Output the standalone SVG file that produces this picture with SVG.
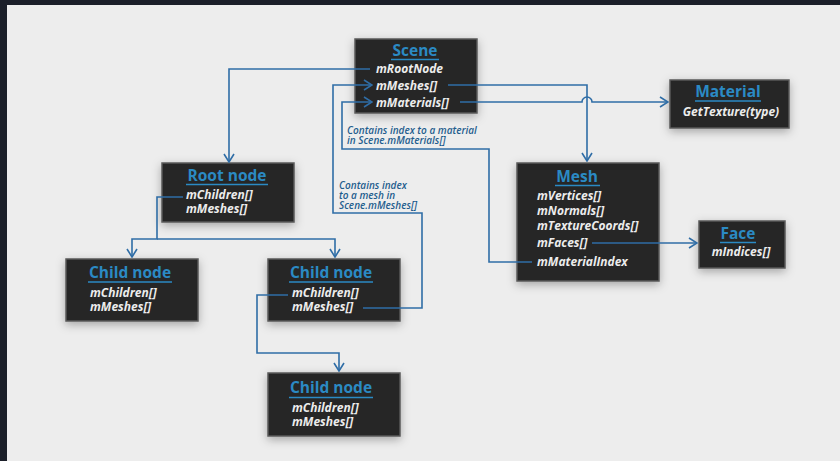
<svg xmlns="http://www.w3.org/2000/svg" width="840" height="461" viewBox="0 0 840 461">
<defs>
<style>
.box{fill:#262626;stroke:#5a5a5a;stroke-width:1.5;filter:url(#sh)}
.title{font-family:"Open Sans","Liberation Sans",sans-serif;font-weight:700;font-size:15.5px;fill:#2b8ac4;text-anchor:middle}
.ul{stroke:#2b8ac4;stroke-width:1.5}
.f{font-family:"Open Sans","Liberation Sans",sans-serif;font-weight:700;font-style:italic;font-size:12px;fill:#ececec}
.fm{text-anchor:middle}
.note{font-family:"Open Sans","Liberation Sans",sans-serif;font-weight:600;font-style:italic;font-size:10px;fill:#1f5d8e}
.c{fill:none;stroke:#2f6da6;stroke-width:1.6}
</style>
<filter id="sh" x="-30%" y="-30%" width="160%" height="170%">
<feDropShadow dx="0" dy="3" stdDeviation="5" flood-color="#000" flood-opacity="0.3"/>
</filter>
<marker id="ah" viewBox="0 0 10 12" refX="9" refY="6" markerWidth="10" markerHeight="12" markerUnits="userSpaceOnUse" orient="auto">
<path d="M1,1 L9,6 L1,11" fill="none" stroke="#2f6da6" stroke-width="1.6"/>
</marker>
</defs>
<rect x="0" y="0" width="840" height="461" fill="#1b1f29"/>
<rect x="7" y="5" width="833" height="456" fill="#ededed"/>

<g id="scene">
<rect class="box" x="355" y="39" width="122" height="74"/>
<text class="title" x="415" y="56">Scene</text>
<line class="ul" x1="391" y1="59.5" x2="439" y2="59.5"/>
<text class="f" x="376" y="73">mRootNode</text>
<text class="f" x="376" y="90">mMeshes[]</text>
<text class="f" x="376" y="107">mMaterials[]</text>
</g>

<g id="material">
<rect class="box" x="670" y="80" width="119" height="48"/>
<text class="title" x="728" y="97">Material</text>
<line class="ul" x1="695" y1="101" x2="761" y2="101"/>
<text class="f fm" x="731" y="116">GetTexture(type)</text>
</g>

<g id="rootnode">
<rect class="box" x="162" y="163" width="132" height="59"/>
<text class="title" x="227" y="181">Root node</text>
<line class="ul" x1="186" y1="184.5" x2="268" y2="184.5"/>
<text class="f" x="186" y="199">mChildren[]</text>
<text class="f" x="186" y="213">mMeshes[]</text>
</g>

<g id="mesh">
<rect class="box" x="517" y="163" width="142" height="118"/>
<text class="title" x="577" y="182">Mesh</text>
<line class="ul" x1="555" y1="185.5" x2="600" y2="185.5"/>
<text class="f" x="537" y="200">mVertices[]</text>
<text class="f" x="537" y="215">mNormals[]</text>
<text class="f" x="537" y="230">mTextureCoords[]</text>
<text class="f" x="537" y="247">mFaces[]</text>
<text class="f" x="537" y="266">mMaterialIndex</text>
</g>

<g id="face">
<rect class="box" x="699" y="221" width="86" height="47"/>
<text class="title" x="738" y="239">Face</text>
<line class="ul" x1="720" y1="242.5" x2="756" y2="242.5"/>
<text class="f fm" x="741" y="256">mIndices[]</text>
</g>

<g id="childnode1">
<rect class="box" x="66" y="259" width="132" height="62"/>
<text class="title" x="130" y="278">Child node</text>
<line class="ul" x1="88" y1="282" x2="172" y2="282"/>
<text class="f" x="90" y="297">mChildren[]</text>
<text class="f" x="90" y="311">mMeshes[]</text>
</g>

<g id="childnode2">
<rect class="box" x="268" y="259" width="132" height="62"/>
<text class="title" x="331" y="278">Child node</text>
<line class="ul" x1="289" y1="282" x2="373" y2="282"/>
<text class="f" x="292" y="297">mChildren[]</text>
<text class="f" x="292" y="311">mMeshes[]</text>
</g>

<g id="childnode3">
<rect class="box" x="268" y="373" width="132" height="63"/>
<text class="title" x="331" y="393">Child node</text>
<line class="ul" x1="289" y1="397.5" x2="373" y2="397.5"/>
<text class="f" x="292" y="412">mChildren[]</text>
<text class="f" x="292" y="426">mMeshes[]</text>
</g>

<g id="notes">
<text class="note" x="347" y="134">Contains index to a material</text>
<text class="note" x="347" y="144">in Scene.mMaterials[]</text>
<text class="note" x="339" y="189">Contains index</text>
<text class="note" x="339" y="199">to a mesh in</text>
<text class="note" x="339" y="209">Scene.mMeshes[]</text>
</g>

<g id="connectors">
<path class="c" d="M370,69 H229 V162" marker-end="url(#ah)"/>
<path class="c" d="M448,85 H587 V161" marker-end="url(#ah)"/>
<path class="c" d="M460,102 H582 A5,5 0 0 1 592,102 H668" marker-end="url(#ah)"/>
<path class="c" d="M183,197 H157 V239 H132 V257" marker-end="url(#ah)"/>
<path class="c" d="M157,239 H335 V257" marker-end="url(#ah)"/>
<path class="c" d="M363,308 H422 V213 H333 V85 H372" marker-end="url(#ah)"/>
<path class="c" d="M532,262 H489 V149 H342 V102 H372" marker-end="url(#ah)"/>
<path class="c" d="M592,243 H697" marker-end="url(#ah)"/>
<path class="c" d="M288,295 H257 V353 H339 V371" marker-end="url(#ah)"/>
</g>
</svg>
